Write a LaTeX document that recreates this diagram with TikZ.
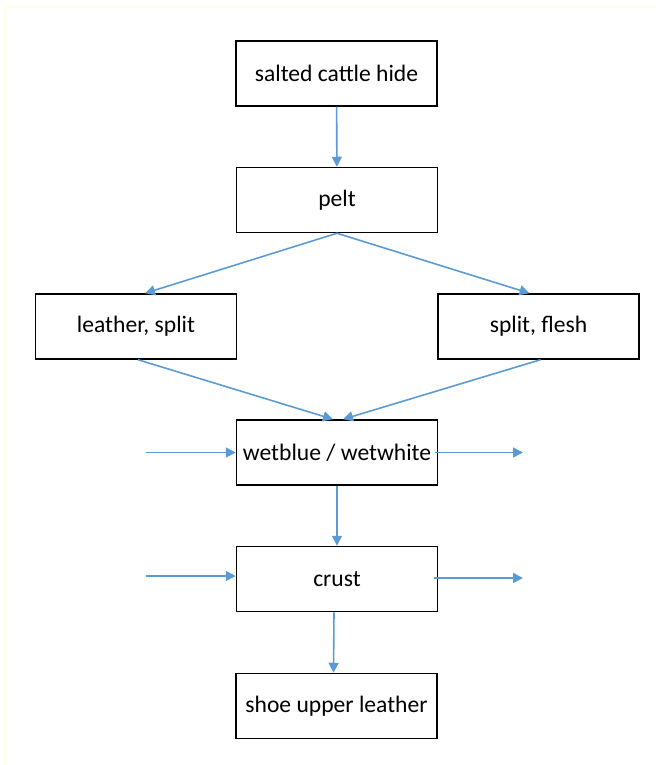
\documentclass[tikz,border=0pt]{standalone}
\usepackage{fontspec}
\setmainfont{Carlito}
\usetikzlibrary{arrows.meta}
\definecolor{flowblue}{HTML}{5B9BD5}
\definecolor{edgeyellow}{HTML}{FFFFE6}
\tikzset{
  stage/.style={draw=black, line width=0.75pt, minimum width=100.5pt,
    minimum height=32.5pt, inner sep=0pt, font=\fontsize{11.8}{13}\selectfont},
  flow/.style={draw=flowblue, line width=0.8pt,
    -{Triangle[length=5pt,width=5pt]}}
}
\begin{document}
\begin{tikzpicture}[x=0.5pt,y=-0.5pt]
      \useasboundingbox (0,0) rectangle (656,765);
      \draw[edgeyellow, line width=1pt] (5,765) -- (5,7) -- (656,7);
      \draw
        (336.5,73.5) node[stage] (hide){salted cattle hide}
        (337,200) node[stage] (pelt){pelt}
        (136,326.5) node[stage] (leather){leather, split}
        (538.5,326.5) node[stage] (flesh){split, flesh}
        (337,452.5) node[stage] (wet){wetblue / wetwhite}
        (337,579) node[stage] (crust){crust}
        (336.5,706) node[stage] (shoe){shoe upper leather};
      \coordinate (wetin) at (146,452.5);
      \coordinate (wetout) at (523,452.5);
      \coordinate (crustin) at (146,576);
      \coordinate (crustout) at (523,578);
      \begin{scope}[flow]
        \draw (hide) to (pelt);
        \draw (pelt.south) to ([xshift=4.5pt]leather.north);
        \draw (pelt.south) to ([xshift=-4.5pt]flesh.north);
        \draw ([xshift=1pt]leather.south) to ([xshift=-2pt]wet.north);
        \draw ([xshift=1pt]flesh.south) to ([xshift=3pt]wet.north);
        \draw (wetin) to (wet.west);
        \draw ([xshift=-1.5pt]wet.east) to (wetout);
        \draw (wet) to (crust);
        \draw (crustin) to (crust.west |- crustin);
        \draw ([xshift=-2pt]crust.east |- crustout) to (crustout);
        \draw ([xshift=-1.5pt]crust.south) to ([xshift=-1.5pt]shoe.north);
      \end{scope}
    \end{tikzpicture}
\end{document}
